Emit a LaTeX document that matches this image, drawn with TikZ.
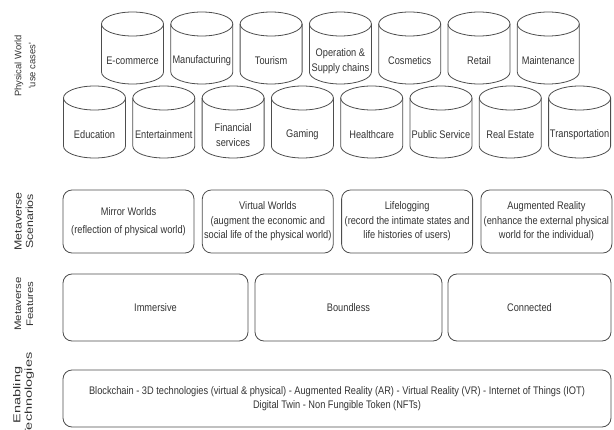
\documentclass[tikz,border=0pt]{standalone}
\usepackage{fontspec}
\setmainfont{Liberation Sans}[FakeStretch=0.84]
\newfontfamily\physfont{Liberation Sans}
\newfontfamily\sidefont{Liberation Sans}[FakeStretch=1.2]
\newfontfamily\enablefont{Liberation Sans}[FakeStretch=1.45]
\definecolor{linegray}{HTML}{4D4D4D}
\definecolor{textgray}{HTML}{333333}
\begin{document}
\begin{tikzpicture}[x=1pt,y=1pt,
  boxtext/.style={text=textgray,align=center,inner sep=0pt,
    font=\fontsize{11}{14.5}\selectfont},
  roundbox/.style={draw=linegray,line width=0.8pt,rounded corners=9pt},
  cyl/.style={draw=linegray,line width=0.8pt},
  sidelabel/.style={text=textgray,align=center,rotate=90,inner sep=0pt}]
\useasboundingbox (0,0) rectangle (614,429);
% side labels
\node[sidelabel,font=\physfont\fontsize{9.4}{14}\selectfont] (physlab) at (25,363)
  {Physical World\\\textquotesingle use cases\textquotesingle};
\node[sidelabel,font=\sidefont\fontsize{10.3}{11.5}\selectfont] (scenlab) at (24,207.5)
  {Metaverse\\Scenarios};
\node[sidelabel,font=\sidefont\fontsize{9.5}{12}\selectfont] (featlab) at (24,125)
  {Metaverse\\Features};
\node[sidelabel,font=\enablefont\fontsize{10}{11.5}\selectfont] (enablab) at (23.5,34)
  {Enabling\\Technologies};
% use cases, upper row
\foreach \i/\n/\lab in {0/ecom/E-commerce,1/manu/Manufacturing,2/tour/Tourism,
  3/oper/{Operation \&\\Supply chains},4/cosm/Cosmetics,5/reta/Retail,6/main/Maintenance}
{ \pgfmathsetmacro\cx{132.5+69.3*\i}
  \draw[cyl] (\cx-31,405) -- (\cx-31,357) arc[start angle=180,end angle=360,x radius=31pt,y radius=12pt] -- (\cx+31,405);
  \draw[cyl] (\cx,405) ellipse[x radius=31pt,y radius=12pt];
  \node[boxtext] (\n) at (\cx,368) {\lab};};
% use cases, lower row
\foreach \i/\n/\lab in {0/educ/Education,1/ente/Entertainment,2/fina/{Financial\\services},
  3/gami/Gaming,4/heal/Healthcare,5/publ/Public Service,6/real/Real Estate,7/tran/Transportation}
{ \pgfmathsetmacro\cx{94.5+69.3*\i}
  \draw[cyl] (\cx-31,331) -- (\cx-31,283) arc[start angle=180,end angle=360,x radius=31pt,y radius=12pt] -- (\cx+31,331);
  \draw[cyl] (\cx,331) ellipse[x radius=31pt,y radius=12pt];
  \node[boxtext] (\n) at (\cx,294) {\lab};};
% metaverse scenarios
\node[roundbox,boxtext,minimum width=131pt,minimum height=63pt] (mirror) at (128.5,207.5)
  {Mirror Worlds\\[3.5pt](reflection of physical world)};
\node[roundbox,boxtext,minimum width=131pt,minimum height=63pt] (virtual) at (267.8,207.5)
  {Virtual Worlds\\(augment the economic and\\social life of the physical world)};
\node[roundbox,boxtext,minimum width=131pt,minimum height=63pt] (lifelog) at (407.1,207.5)
  {Lifelogging\\(record the intimate states and\\life histories of users)};
\node[roundbox,boxtext,minimum width=131pt,minimum height=63pt] (augment) at (546.4,207.5)
  {Augmented Reality\\(enhance the external physical\\world for the individual)};
% metaverse features
\node[roundbox,boxtext,minimum width=185pt,minimum height=67pt] (immersive) at (155.5,121.5) {Immersive};
\node[roundbox,boxtext,minimum width=187pt,minimum height=67pt] (boundless) at (348.5,121.5) {Boundless};
\node[roundbox,boxtext,minimum width=163pt,minimum height=67pt] (connected) at (529.5,121.5) {Connected};
% enabling technologies
\node[roundbox,boxtext,minimum width=548pt,minimum height=57pt] (enabling) at (337,30.5)
  {Blockchain - 3D technologies (virtual \& physical) - Augmented Reality (AR) - Virtual Reality (VR) - Internet of Things (IOT)\\
   Digital Twin - Non Fungible Token (NFTs)};
\end{tikzpicture}
\end{document}
